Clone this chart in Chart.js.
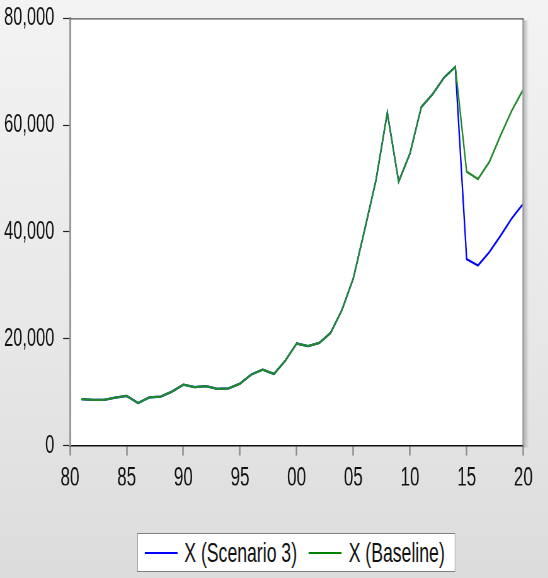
<!DOCTYPE html>
<html><head><meta charset="utf-8">
<script src="https://cdn.jsdelivr.net/npm/chart.js@4.4.1/dist/chart.umd.min.js"></script>
<style>
html,body{margin:0;padding:0;width:548px;height:578px;overflow:hidden;}
body{background:linear-gradient(to bottom,#f3f3f3 0%,#e8e8e8 55%,#dcdcdc 100%);}
#wrap{position:absolute;left:0;top:0;width:870px;height:578px;transform:scaleX(0.63);transform-origin:0 0;}
#c{position:absolute;left:0;top:0;}
#legend{position:absolute;left:217.5px;top:533px;width:505px;height:39px;box-sizing:border-box;background:#fff;border-style:solid;border-color:#808080;border-width:1px 1.6px;display:flex;align-items:center;font-family:"Liberation Sans",Arial,sans-serif;font-size:28px;color:#111;white-space:nowrap;}
.sw{display:inline-block;width:52px;height:2px;flex:none;}
.lt{display:inline-block;flex:none;}
</style></head>
<body>
<div id="wrap">
<canvas id="c" width="870" height="578"></canvas>
<div id="legend">
 <span class="sw" style="background:#0000ff;margin-left:11px;"></span><span class="lt" style="margin-left:11px;">X (Scenario 3)</span>
 <span class="sw" style="background:#008000;margin-left:19px;"></span><span class="lt" style="margin-left:11px;">X (Baseline)</span>
</div>
</div>
<script>
const years=[1981,1982,1983,1984,1985,1986,1987,1988,1989,1990,1991,1992,1993,1994,1995,1996,1997,1998,1999,2000,2001,2002,2003,2004,2005,2006,2007,2008,2009,2010,2011,2012,2013,2014,2015,2016,2017,2018,2019,2020];
const baselineValues=[8700,8550,8550,8950,9300,7950,9000,9150,10100,11400,10950,11100,10600,10700,11600,13300,14200,13400,15900,19100,18600,19200,21100,25400,31300,40400,49700,62300,49400,54700,63400,65800,68900,70900,51300,49900,53100,58100,62800,66700];
const scenario3Values=[8700,8550,8550,8950,9300,7950,9000,9150,10100,11400,10950,11100,10600,10700,11600,13300,14200,13400,15900,19100,18600,19200,21100,25400,31300,40400,49700,62300,49400,54700,63400,65800,68900,70900,34900,33700,36200,39300,42600,45300];
const xTickLabels=['80','85','90','95','00','05','10','15','20'];
const yTickLabels=['0','20,000','40,000','60,000','80,000'];

const SX=0.63;
const FONT='"Liberation Sans", Arial, sans-serif';
const plotLeft=70/SX, plotRight=523.3/SX, W=870;

const framePlugin={id:'plotFrame',
 beforeDraw(chart){const {ctx,chartArea:a}=chart;ctx.save();ctx.fillStyle='#ffffff';ctx.fillRect(a.left,a.top,a.right-a.left,a.bottom-a.top);ctx.restore();},
 afterDraw(chart){const {ctx,chartArea:a}=chart;ctx.save();
  const g=ctx.createLinearGradient(a.right+1,0,a.right+9,0);
  g.addColorStop(0,'rgba(110,110,110,0.40)');g.addColorStop(1,'rgba(110,110,110,0)');
  ctx.fillStyle=g;ctx.fillRect(a.right+1,a.top+2,8,a.bottom-a.top);
  ctx.strokeStyle='#a4a4a4';ctx.lineWidth=3;ctx.beginPath();ctx.moveTo(a.right,a.top);ctx.lineTo(a.right,a.bottom);ctx.stroke();
  ctx.strokeStyle='#505050';ctx.lineWidth=1.2;ctx.beginPath();ctx.moveTo(a.left,a.top+0.5);ctx.lineTo(a.right,a.top+0.5);ctx.stroke();
  ctx.restore();}
};

new Chart(document.getElementById('c'),{
 type:'line',
 data:{datasets:[
  {label:'X (Scenario 3)',data:years.map((y,i)=>({x:y,y:scenario3Values[i]})),borderColor:'#0000ff',backgroundColor:'#0000ff',borderWidth:2.3,pointRadius:0,tension:0,fill:false,order:1},
  {label:'X (Baseline)',data:years.map((y,i)=>({x:y,y:baselineValues[i]})),borderColor:'#1e8a28',backgroundColor:'#008000',borderWidth:2.3,pointRadius:0,tension:0,fill:false,order:0}
 ]},
 options:{
  responsive:false,animation:false,devicePixelRatio:1,
  layout:{padding:{left:0,right:W-plotRight,top:18.3,bottom:92.5}},
  plugins:{legend:{display:false},tooltip:{enabled:false}},
  scales:{
   x:{type:'linear',min:1980,max:2020,
    afterFit(s){s.height=40;s.paddingLeft=0;s.paddingRight=0;},
    ticks:{stepSize:5,autoSkip:false,maxRotation:0,padding:7,color:'#111',font:{family:FONT,size:27},callback:(v,i)=>xTickLabels[i]},
    grid:{drawOnChartArea:false,drawTicks:true,tickLength:10,tickColor:'#8c8c8c',tickWidth:2.5},
    border:{display:true,color:'#111',width:1.5}},
   y:{min:0,max:80000,
    afterFit(s){s.width=plotLeft;s.paddingTop=0;s.paddingBottom=0;},
    ticks:{stepSize:20000,padding:14,color:'#111',font:{family:FONT,size:26},callback:(v,i)=>yTickLabels[i]},
    grid:{drawOnChartArea:false,drawTicks:true,tickLength:11,tickColor:'#222',tickWidth:1.2},
    border:{display:true,color:'#9a9a9a',width:3}}
  }
 },
 plugins:[framePlugin]
});
</script>
</body></html>
